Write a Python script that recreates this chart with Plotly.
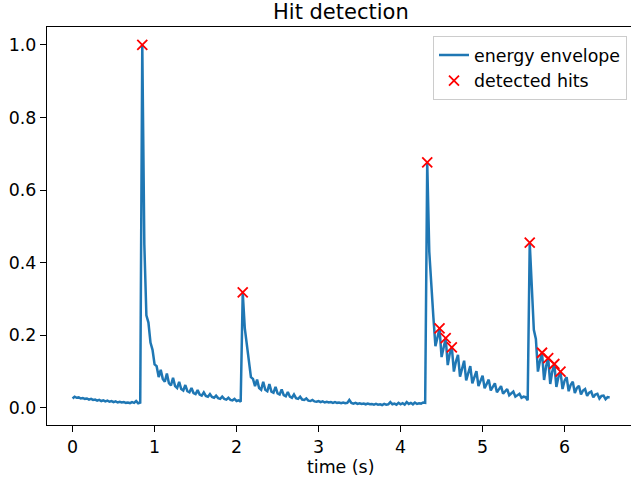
import plotly.graph_objects as go

# ---- data ----
FRAME_STEP = 0.025  # seconds per envelope frame

seg_baseline_1 = [0.026, 0.031, 0.028, 0.029, 0.026, 0.027, 0.025, 0.026, 0.023, 0.025,
                  0.022, 0.023, 0.020, 0.022, 0.019, 0.021, 0.018, 0.020, 0.017, 0.019,
                  0.016, 0.018, 0.015, 0.017, 0.015, 0.016, 0.014, 0.015, 0.013, 0.016,
                  0.014, 0.019, 0.013]
seg_hit_1 = [0.015, 1.0, 0.45, 0.255, 0.235, 0.18, 0.16, 0.12, 0.115, 0.085,
             0.105, 0.08, 0.072, 0.095, 0.068, 0.062, 0.083, 0.060, 0.055, 0.072,
             0.052, 0.048, 0.063, 0.046, 0.043, 0.055, 0.041, 0.038, 0.049, 0.037,
             0.034, 0.043, 0.033, 0.031, 0.038, 0.030, 0.028, 0.034, 0.027, 0.025,
             0.031, 0.025, 0.023, 0.028, 0.022, 0.021, 0.025, 0.019, 0.021, 0.017]
seg_hit_2 = [0.318, 0.22, 0.17, 0.12, 0.085, 0.080, 0.060, 0.078, 0.055, 0.050,
             0.072, 0.050, 0.046, 0.066, 0.045, 0.042, 0.058, 0.040, 0.037, 0.051,
             0.035, 0.032, 0.044, 0.031, 0.028, 0.037, 0.027, 0.025, 0.031, 0.023,
             0.022, 0.026, 0.020, 0.019, 0.022, 0.018]
seg_baseline_2 = [0.017, 0.019, 0.016, 0.018, 0.015, 0.017, 0.015, 0.016, 0.014, 0.016,
                  0.014, 0.015, 0.013, 0.015, 0.013, 0.014, 0.022, 0.014, 0.012, 0.014,
                  0.011, 0.013, 0.011, 0.012, 0.010, 0.012, 0.010, 0.011, 0.009, 0.011,
                  0.009, 0.010, 0.008, 0.011, 0.009, 0.010, 0.016, 0.010, 0.012, 0.009,
                  0.014, 0.010, 0.013, 0.009, 0.016, 0.011, 0.014, 0.010, 0.015, 0.011,
                  0.013, 0.012, 0.015, 0.014]
seg_hit_3 = [0.676, 0.43, 0.33, 0.25, 0.17, 0.20, 0.219, 0.14, 0.17, 0.192,
             0.118, 0.150, 0.167, 0.100, 0.128, 0.146, 0.086, 0.112, 0.130, 0.076,
             0.098, 0.115, 0.068, 0.087, 0.101, 0.060, 0.077, 0.089, 0.054, 0.068,
             0.078, 0.048, 0.060, 0.068, 0.043, 0.053, 0.060, 0.039, 0.047, 0.052,
             0.035, 0.041, 0.045, 0.031, 0.036, 0.039, 0.028, 0.031, 0.030, 0.021]
seg_hit_4 = [0.455, 0.33, 0.215, 0.19, 0.10, 0.13, 0.152, 0.077, 0.115, 0.137,
             0.066, 0.10, 0.121, 0.058, 0.085, 0.100, 0.052, 0.075, 0.085, 0.046,
             0.064, 0.072, 0.041, 0.055, 0.061, 0.037, 0.048, 0.052, 0.033, 0.042,
             0.045, 0.029, 0.037, 0.039, 0.026, 0.033, 0.034, 0.024, 0.030, 0.029]

envelope = seg_baseline_1 + seg_hit_1 + seg_hit_2 + seg_baseline_2 + seg_hit_3 + seg_hit_4
times = [round(i * FRAME_STEP, 3) for i in range(len(envelope))]

hit_times = [0.85, 2.075, 4.325, 4.475, 4.55, 4.625, 5.575, 5.725, 5.8, 5.875, 5.95]
hit_values = [1.0, 0.318, 0.676, 0.219, 0.192, 0.167, 0.455, 0.152, 0.137, 0.121, 0.100]

x_ticks = [0, 1, 2, 3, 4, 5, 6]
y_ticks = [0.0, 0.2, 0.4, 0.6, 0.8, 1.0]

FONT = "DejaVu Sans"
FS = 17.4

# The reference is cropped on the right: the axes box runs past the window edge.
FIG_W = 640
PLOT_W = FIG_W - 47
VIEW_W = 631

fig = go.Figure()
fig.add_trace(go.Scatter(
    x=times, y=envelope, mode="lines", name="energy envelope", legendgroup="a",
    line=dict(color="#1f77b4", width=2.5),
))
fig.add_trace(go.Scatter(
    x=hit_times, y=hit_values, mode="markers", name="detected hits", legendgroup="b",
    marker=dict(symbol="x-thin", size=10, color="red", line=dict(color="red", width=1.8)),
))

fig.update_layout(
    width=FIG_W, height=486,
    margin=dict(l=47, r=0, t=27, b=61, autoexpand=False),
    paper_bgcolor="white", plot_bgcolor="white",
    font=dict(family=FONT, size=FS, color="black"),
    showlegend=True,
    legend=dict(
        x=(627 - 47) / PLOT_W, y=0.977, xanchor="right", yanchor="top",
        bgcolor="rgba(255,255,255,0.8)", bordercolor="#cccccc", borderwidth=1,
        font=dict(family=FONT, size=FS, color="black"),
        tracegroupgap=0,
    ),
    annotations=[
        dict(text="Hit detection", xref="paper", yref="paper", x=(340.5 - 47) / PLOT_W, y=1.038,
             xanchor="center", yanchor="middle", showarrow=False,
             font=dict(family=FONT, size=21, color="black")),
        dict(text="time (s)", xref="paper", yref="paper", x=(340.5 - 47) / PLOT_W, y=-0.1055,
             xanchor="center", yanchor="middle", showarrow=False,
             font=dict(family=FONT, size=FS, color="black")),
    ],
)
fig.update_xaxes(
    range=[-0.312, -0.312 + PLOT_W / 82.0], tickvals=x_ticks, ticktext=[str(v) for v in x_ticks],
    showgrid=False, zeroline=False, showline=True, linecolor="black", linewidth=1.3,
    mirror=True, ticks="outside", ticklen=6, tickwidth=1.3, tickcolor="black",
    tickfont=dict(family=FONT, size=FS, color="black"), automargin=False,
)
fig.update_yaxes(
    range=[-0.047, 1.049], tickvals=y_ticks, ticktext=[f"{v:.1f}" for v in y_ticks],
    showgrid=False, zeroline=False, showline=True, linecolor="black", linewidth=1.3,
    mirror=True, ticks="outside", ticklen=6, tickwidth=1.3, tickcolor="black",
    tickfont=dict(family=FONT, size=FS, color="black"), automargin=False,
)

fig.write_html(
    "out.html", config={"displayModeBar": False},
    post_script=("document.body.style.margin='0';"
                 "document.documentElement.style.overflow='hidden';"
                 "document.body.style.overflow='hidden';"),
)
